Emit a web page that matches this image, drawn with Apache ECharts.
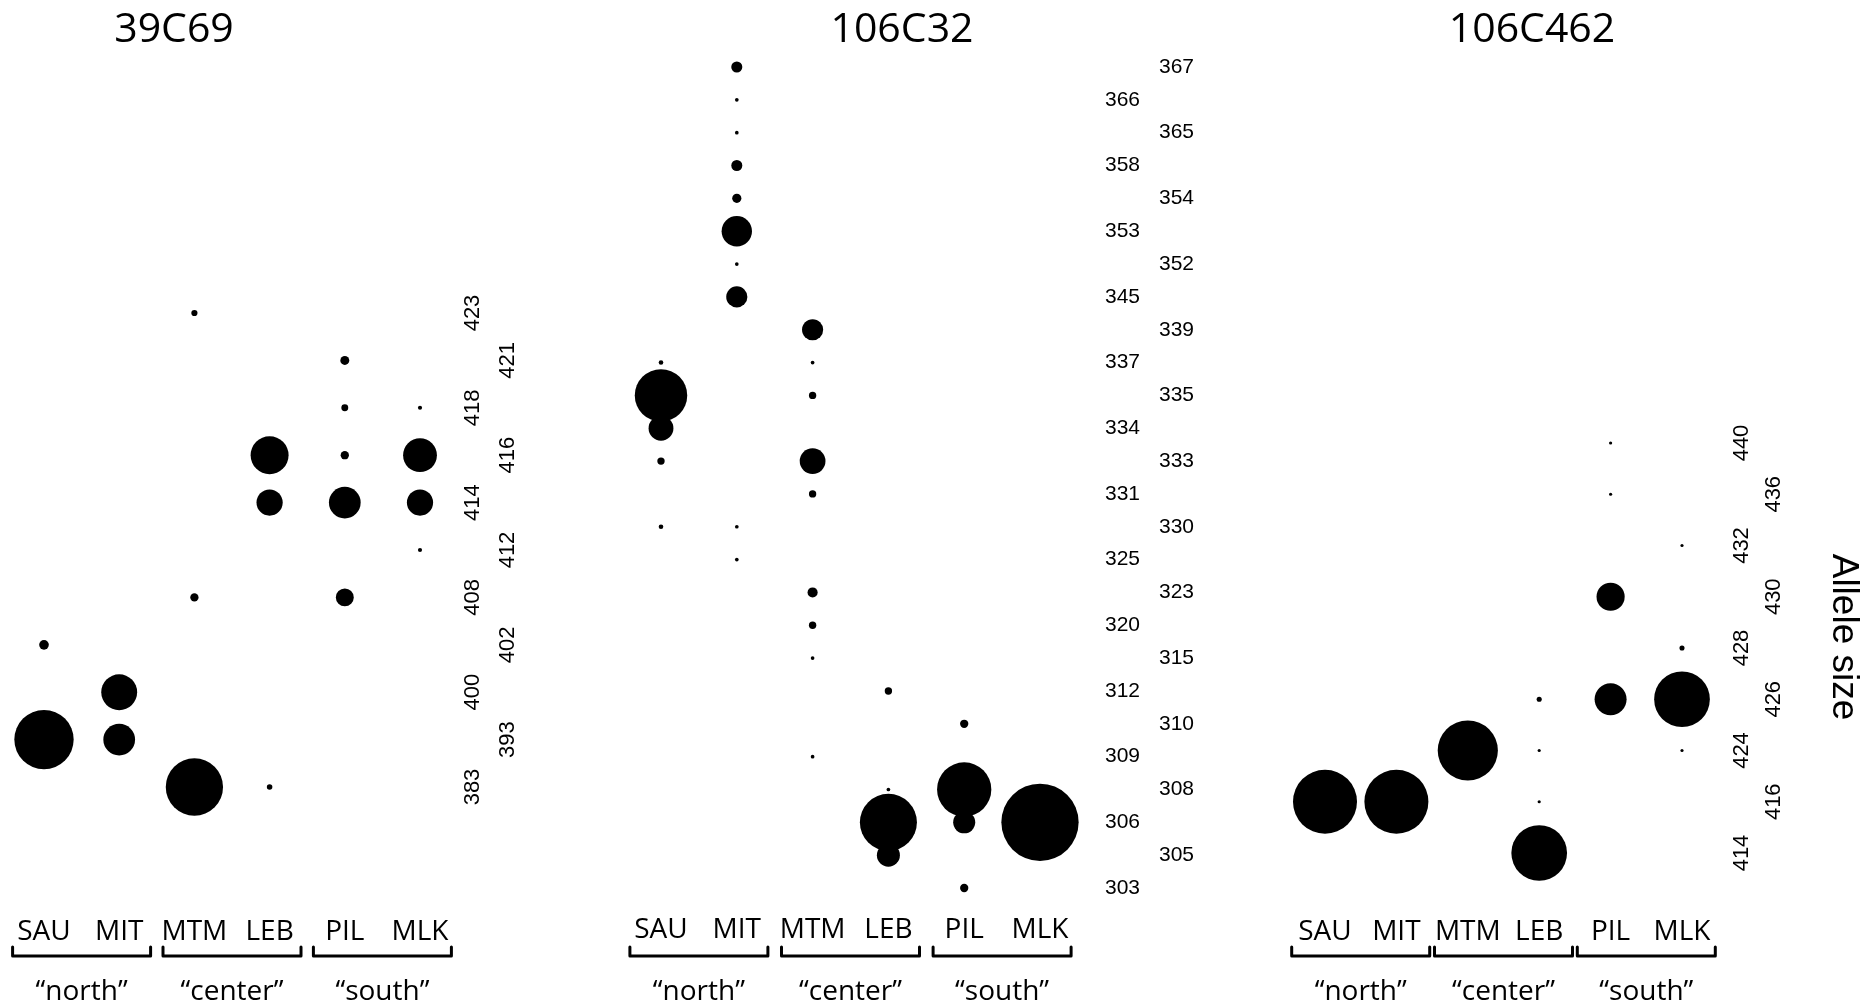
<!DOCTYPE html>
<html>
<head>
<meta charset="utf-8">
<script src="https://cdn.jsdelivr.net/npm/echarts@6/dist/echarts.min.js"></script>
<style>
  html, body { margin: 0; padding: 0; background: #fff; }
  #main { width: 1863px; height: 1006px; }
</style>
</head>
<body>
<div id="main"></div>
<script>
const sites = ['SAU', 'MIT', 'MTM', 'LEB', 'PIL', 'MLK']
const regions = ['“north”', '“center”', '“south”']
const loci = ['39C69', '106C32', '106C462']

// allele sizes, bottom to top
const alleles39C69 = ['383', '393', '400', '402', '408', '412', '414', '416', '418', '421', '423']
const alleles106C32 = ['303', '305', '306', '308', '309', '310', '312', '315', '320', '323', '325', '330', '331',
  '333', '334', '335', '337', '339', '345', '352', '353', '354', '358', '365', '366', '367']
const alleles106C462 = ['414', '416', '424', '426', '428', '430', '432', '436', '440']

// [site, allele, frequency]
const freq39C69 = [
  ['SAU', '402', 0.14], ['SAU', '393', 0.86],
  ['MIT', '400', 0.52], ['MIT', '393', 0.46],
  ['MTM', '423', 0.09], ['MTM', '408', 0.12], ['MTM', '383', 0.83],
  ['LEB', '416', 0.55], ['LEB', '414', 0.38], ['LEB', '383', 0.08],
  ['PIL', '421', 0.13], ['PIL', '418', 0.10], ['PIL', '416', 0.12], ['PIL', '414', 0.46], ['PIL', '408', 0.26],
  ['MLK', '418', 0.06], ['MLK', '416', 0.49], ['MLK', '414', 0.38], ['MLK', '412', 0.06]
]
const freq106C32 = [
  ['SAU', '337', 0.05], ['SAU', '335', 0.57], ['SAU', '334', 0.27], ['SAU', '333', 0.08], ['SAU', '330', 0.05],
  ['MIT', '367', 0.12], ['MIT', '366', 0.04], ['MIT', '365', 0.04], ['MIT', '358', 0.12], ['MIT', '354', 0.10],
  ['MIT', '353', 0.33], ['MIT', '352', 0.04], ['MIT', '345', 0.23], ['MIT', '330', 0.04], ['MIT', '325', 0.04],
  ['MTM', '339', 0.23], ['MTM', '337', 0.04], ['MTM', '335', 0.08], ['MTM', '333', 0.28], ['MTM', '331', 0.08],
  ['MTM', '323', 0.11], ['MTM', '320', 0.08], ['MTM', '315', 0.04], ['MTM', '309', 0.04],
  ['LEB', '312', 0.08], ['LEB', '308', 0.04], ['LEB', '306', 0.62], ['LEB', '305', 0.25],
  ['PIL', '310', 0.09], ['PIL', '308', 0.59], ['PIL', '306', 0.24], ['PIL', '303', 0.09],
  ['MLK', '306', 0.84]
]
const freq106C462 = [
  ['SAU', '416', 1.00],
  ['MIT', '416', 1.00],
  ['MTM', '424', 0.94],
  ['LEB', '426', 0.08], ['LEB', '424', 0.05], ['LEB', '416', 0.05], ['LEB', '414', 0.87],
  ['PIL', '440', 0.05], ['PIL', '436', 0.05], ['PIL', '430', 0.44], ['PIL', '426', 0.50],
  ['MLK', '432', 0.05], ['MLK', '428', 0.08], ['MLK', '426', 0.87], ['MLK', '424', 0.05]
]

// 面板布局
const panels = [
  { alleles: alleles39C69, freq: freq39C69, grid: { left: 44, top: 313, width: 376, height: 474 },
    scale: 69, rotate: 90, labelSize: 22, margins: [42, 77], xMargin: 131, titleX: 174 },
  { alleles: alleles106C32, freq: freq106C32, grid: { left: 661, top: 67, width: 379, height: 821 },
    scale: 92, rotate: 0, labelSize: 21, margins: [65, 119], xMargin: 28, titleX: 902 },
  { alleles: alleles106C462, freq: freq106C462, grid: { left: 1325, top: 443, width: 357, height: 410 },
    scale: 64, rotate: 90, labelSize: 22, margins: [49, 81], xMargin: 65, titleX: 1532 }
]

let grids = []
let xAxes = []
let yAxes = []
let series = []
let titles = []

panels.forEach((p, i) => {
  grids.push(p.grid)
  titles.push({
    text: loci[i],
    left: p.titleX,
    top: 10,
    padding: 0,
    textAlign: 'center',
    textStyle: { fontFamily: 'Open Sans', fontSize: 41, fontWeight: 'normal', color: '#000' }
  })
  xAxes.push({
    type: 'category',
    gridIndex: i,
    data: sites,
    boundaryGap: false,
    axisLine: { show: false },
    axisTick: { show: false },
    splitLine: { show: false },
    axisLabel: {
      interval: 0,
      margin: p.xMargin,
      fontFamily: 'Open Sans',
      fontSize: 28,
      color: '#000'
    }
  })
  // 两列交错的刻度文字
  for (let parity = 0; parity < 2; parity++) {
    yAxes.push({
      type: 'category',
      gridIndex: i,
      data: p.alleles,
      position: 'right',
      boundaryGap: false,
      axisLine: { show: false },
      axisTick: { show: false },
      splitLine: { show: false },
      axisLabel: {
        interval: (idx) => idx % 2 === parity,
        rotate: p.rotate,
        margin: p.margins[parity],
        fontFamily: 'Liberation Sans',
        fontSize: p.labelSize,
        color: '#000'
      }
    })
  }
  series.push({
    type: 'scatter',
    xAxisIndex: i,
    yAxisIndex: i * 2,
    clip: false,
    data: p.freq,
    symbol: 'circle',
    symbolSize: (val) => Math.max(3, p.scale * val[2]),
    itemStyle: { color: '#000', opacity: 1 },
    emphasis: { disabled: true }
  })
})

let option = {
  animation: false,
  backgroundColor: '#fff',
  title: titles,
  grid: grids,
  xAxis: xAxes,
  yAxis: yAxes,
  series: series
}

let myChart = echarts.init(document.getElementById('main'))
myChart.setOption(option)

// 括号与区域文字
let graphics = []
panels.forEach((p, i) => {
  for (let r = 0; r < regions.length; r++) {
    let xa = myChart.convertToPixel({ xAxisIndex: i }, sites[2 * r])
    let xb = myChart.convertToPixel({ xAxisIndex: i }, sites[2 * r + 1])
    let c = (xa + xb) / 2
    graphics.push({
      type: 'polyline',
      shape: { points: [[c - 69, 947], [c - 69, 956], [c + 69, 956], [c + 69, 947]] },
      style: { stroke: '#000', lineWidth: 3, lineJoin: 'round', lineCap: 'round' }
    })
    graphics.push({
      type: 'text',
      style: {
        text: regions[r], x: c, y: 992,
        fill: '#000', font: '28px "Open Sans"',
        textAlign: 'center', textVerticalAlign: 'middle'
      }
    })
  }
})
graphics.push({
  type: 'text',
  x: 1843,
  y: 637,
  rotation: -Math.PI / 2,
  style: {
    text: 'Allele size', x: 0, y: 0,
    fill: '#000', font: '37px "Liberation Sans"',
    textAlign: 'center', textVerticalAlign: 'middle'
  }
})
myChart.setOption({ graphic: graphics })
</script>
</body>
</html>
